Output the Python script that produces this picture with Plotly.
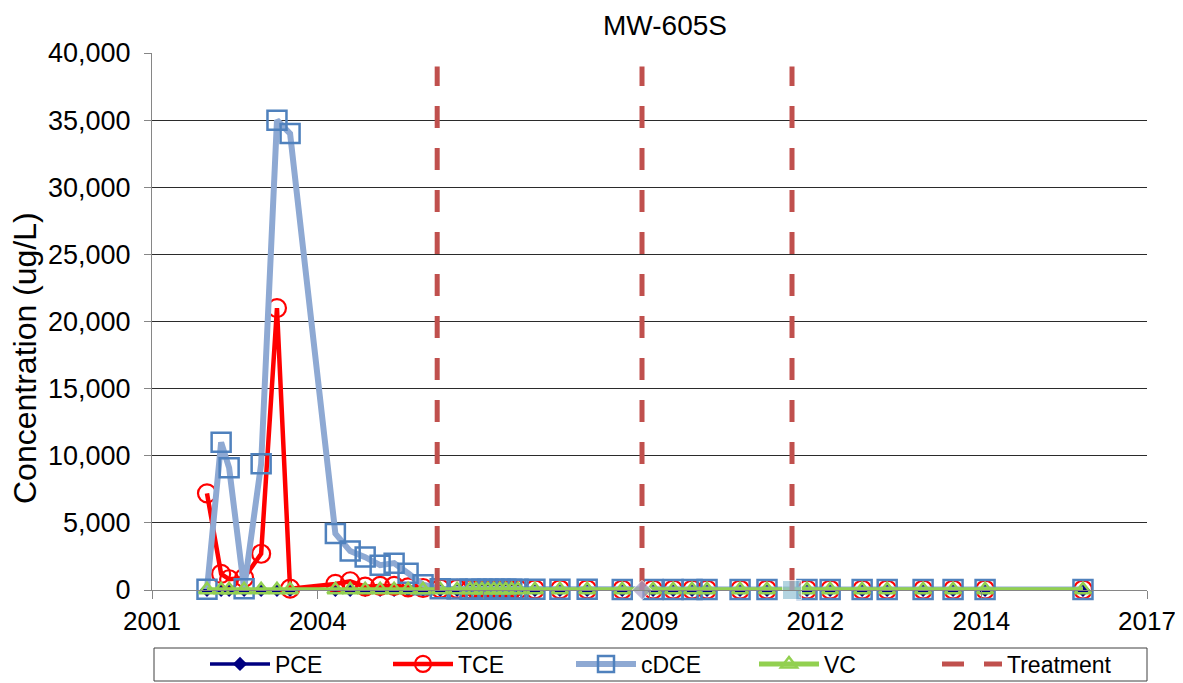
import plotly.graph_objects as go

# ---- data ----
sample_dates = [
    "2002-05-20", "2002-08-11", "2002-09-27", "2002-12-24", "2003-04-03", "2003-07-05",
    "2003-09-20", "2004-06-12", "2004-09-07", "2004-12-04", "2005-03-02", "2005-05-23",
    "2005-08-13", "2005-11-09", "2006-02-18", "2006-05-28", "2006-08-12", "2006-09-16",
    "2006-10-21", "2006-11-25", "2006-12-30", "2007-02-03", "2007-03-10", "2007-04-14",
    "2007-05-21", "2007-08-28", "2008-01-22", "2008-06-30", "2009-01-22", "2009-07-22",
    "2009-11-17", "2010-03-08", "2010-06-04", "2010-12-15", "2011-05-22", "2012-01-12",
    "2012-05-27", "2012-12-01", "2013-04-27", "2013-11-24", "2014-05-19", "2014-11-23",
    "2016-06-20",
]
pce = [10, 10, 10, 10, 10, 10, 10, 10, 10, 10, 10, 10, 10, 10, 10, 10, 5, 5, 5, 5, 5, 5,
       5, 5, 5, 5, 5, 5, 5, 5, 5, 5, 5, 5, 5, 5, 5, 5, 5, 5, 5, 5, 5]
tce = [7200, 1200, 800, 900, 2700, 21000, 100, 450, 650, 250, 300, 300, 200, 150, 100, 80,
       50, 50, 50, 50, 50, 50, 50, 50, 40, 40, 40, 40, 30, 30, 30, 30, 30, 30, 30, 30, 30,
       30, 30, 30, 30, 30, 30]
cdce = [50, 11000, 9100, 100, 9400, 35000, 34000, 4200, 2900, 2450, 1850, 2000, 1250, 400,
        100, 80, 60, 60, 60, 60, 60, 60, 60, 60, 50, 50, 50, 50, 40, 40, 40, 40, 40, 40, 40,
        40, 40, 40, 40, 40, 40, 40, 40]
vc = [20, 20, 20, 20, 20, 20, 20, 20, 20, 20, 20, 20, 20, 20, 20, 20, 20, 20, 20, 20, 20,
      20, 20, 20, 20, 20, 20, 20, 20, 20, 20, 20, 20, 20, 20, 20, 20, 20, 20, 20, 20, 20, 20]

treatment_dates = ["2006-01-31", "2009-05-18", "2011-10-16"]
treatment_top = 39000
treatment_marker_dates = ["2009-05-18", "2011-10-16"]
treatment_marker_vals = [0, 0]

x_range = ["2001-07-01", "2017-07-01"]
x_tickvals = ["2001-07-01", "2004-03-01", "2006-11-01", "2009-07-01", "2012-03-01",
              "2014-11-01", "2017-07-01"]
x_ticktext = ["2001", "2004", "2006", "2009", "2012", "2014", "2017"]

FONT = "Liberation Sans, Arial, sans-serif"
# the page body adds an 8px offset; the figure is sized so it ends at the window edge
W, H = 1175, 675

fig = go.Figure()

fig.add_trace(go.Scatter(
    x=sample_dates, y=pce, name="PCE", mode="lines+markers", cliponaxis=False,
    line=dict(color="#000080", width=3.5),
    marker=dict(symbol="diamond", size=11, color="#000080"),
))
fig.add_trace(go.Scatter(
    x=sample_dates, y=tce, name="TCE", mode="lines+markers", cliponaxis=False,
    line=dict(color="#FF0000", width=4.5),
    marker=dict(symbol="circle-open", size=18, color="#FF0000", line=dict(width=2.2)),
))
fig.add_trace(go.Scatter(
    x=sample_dates, y=cdce, name="cDCE", mode="lines+markers", cliponaxis=False,
    line=dict(color="#8EA9D3", width=6),
    marker=dict(symbol="square-open", size=19, color="#4F81BD", line=dict(width=2.5)),
))
fig.add_trace(go.Scatter(
    x=sample_dates, y=vc, name="VC", mode="lines+markers", cliponaxis=False,
    line=dict(color="#92D050", width=5),
    marker=dict(symbol="triangle-up-open", size=14, color="#92D050", line=dict(width=2.5)),
))

tx, ty = [], []
for d in treatment_dates:
    tx += [d, d, None]
    ty += [0, treatment_top, None]
fig.add_trace(go.Scatter(
    x=tx, y=ty, name="Treatment", mode="lines", cliponaxis=False,
    line=dict(color="#C0504D", width=5, dash="22px,20px"),
))
fig.add_trace(go.Scatter(
    x=treatment_marker_dates, y=treatment_marker_vals, mode="markers", showlegend=False,
    cliponaxis=False, hoverinfo="skip",
    marker=dict(symbol=["diamond", "square"], size=[15, 19], color=["#A49CC8", "#93C3D5"]),
))

fig.update_layout(
    width=W, height=H,
    margin=dict(l=144, r=36, t=45, b=93, autoexpand=False),
    paper_bgcolor="white", plot_bgcolor="white",
    font=dict(family=FONT, size=26, color="black"),
    title=dict(text="MW-605S", x=0.5156, xref="paper", xanchor="center",
               y=1 - 17 / H, yref="container", yanchor="middle", pad=dict(t=0, b=0, l=0, r=0),
               font=dict(family=FONT, size=28, color="black")),
    showlegend=True,
    legend=dict(orientation="h", x=(205 - 8 - 144) / 995, xanchor="left", xref="paper",
                y=1 - 656 / H, yref="container", yanchor="middle",
                font=dict(family=FONT, size=23), bgcolor="rgba(0,0,0,0)",
                entrywidth=108, entrywidthmode="pixels", itemwidth=60,
                traceorder="normal"),
)
fig.update_xaxes(
    type="date", range=x_range, tickvals=x_tickvals, ticktext=x_ticktext,
    showgrid=False, zeroline=False, showline=True, linecolor="#868686", linewidth=1,
    ticks="outside", ticklen=8, tickcolor="#868686",
    tickfont=dict(family=FONT, size=26),
)
fig.update_yaxes(
    range=[0, 40000], dtick=5000, tickformat=",d",
    showgrid=True, gridcolor="#2b2b2b", gridwidth=1, zeroline=False,
    showline=True, linecolor="#868686", linewidth=1,
    ticks="outside", ticklen=7, tickcolor="#868686", ticklabelstandoff=8,
    tickfont=dict(family=FONT, size=27),
)
fig.add_annotation(
    text="Concentration (ug/L)", xref="paper", yref="paper",
    x=-(152 - 25) / 995, y=(590 - 358) / 537, xanchor="center", yanchor="middle",
    textangle=-90, showarrow=False, font=dict(family=FONT, size=32, color="black"),
)
fig.add_shape(
    type="rect", xref="paper", yref="paper",
    x0=(154 - 152) / 995, x1=1.0, y0=(590 - 681) / 537, y1=(590 - 648) / 537,
    line=dict(color="#404040", width=1), fillcolor="rgba(0,0,0,0)",
)

fig.write_html("out.html")
